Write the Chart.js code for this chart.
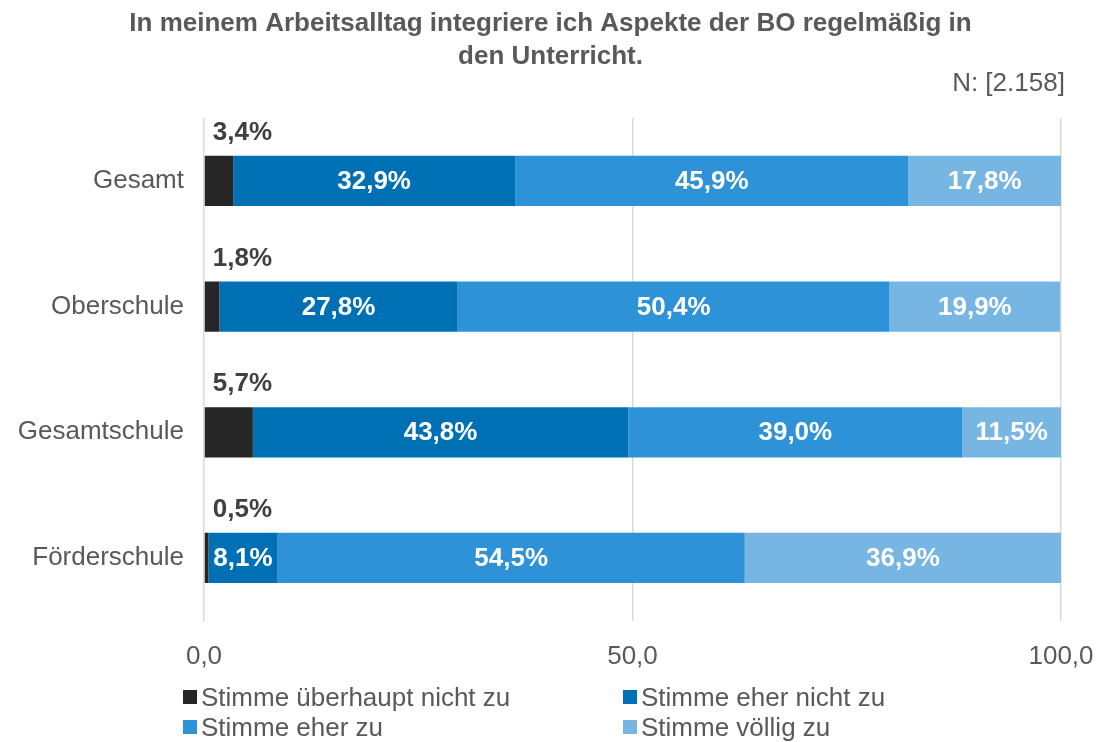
<!DOCTYPE html>
<html>
<head>
<meta charset="utf-8">
<script src="https://cdn.jsdelivr.net/npm/chart.js@4/dist/chart.umd.min.js"></script>
<style>
  html, body { margin: 0; padding: 0; background: #fff; }
  #wrap { position: relative; width: 1101px; height: 742px; }
  #legend { position: absolute; left: 0; top: 682px; width: 1101px; font-family: "Liberation Sans", Arial, sans-serif; font-size: 26px; color: #595959; }
  #legend .item { position: absolute; display: flex; align-items: center; white-space: nowrap; line-height: 30px; }
  #legend .box { width: 14px; height: 14px; margin-right: 4px; }
</style>
</head>
<body>
<div id="wrap">
  <canvas id="chart" width="1101" height="742"></canvas>
  <div id="legend"></div>
</div>
<script>
const categories = ['Gesamt', 'Oberschule', 'Gesamtschule', 'Förderschule'];
const seriesNames = ['Stimme überhaupt nicht zu', 'Stimme eher nicht zu', 'Stimme eher zu', 'Stimme völlig zu'];
const notAtAll = [3.4, 1.8, 5.7, 0.5];
const ratherNot = [32.9, 27.8, 43.8, 8.1];
const rather = [45.9, 50.4, 39.0, 54.5];
const fully = [17.8, 19.9, 11.5, 36.9];
const xTicks = [0, 50, 100];
const colors = ['#262626', '#0070B4', '#2E92D8', '#77B5E3'];

const fmt = v => v.toFixed(1).replace('.', ',');
const FONT = '"Liberation Sans", Arial, sans-serif';

// value labels: first series sits above the bar, the rest white inside
const labelPlugin = {
  id: 'barLabels',
  afterDatasetsDraw(chart) {
    const ctx = chart.ctx;
    ctx.save();
    ctx.font = 'bold 26px ' + FONT;
    ctx.textBaseline = 'middle';
    chart.data.datasets.forEach((ds, i) => {
      const meta = chart.getDatasetMeta(i);
      meta.data.forEach((bar, j) => {
        const txt = fmt(ds.data[j]) + '%';
        if (i === 0) {
          ctx.fillStyle = '#404040';
          ctx.textAlign = 'left';
          ctx.fillText(txt, bar.base + 8, bar.y - bar.height / 2 - 23);
        } else {
          ctx.fillStyle = '#ffffff';
          ctx.textAlign = 'center';
          ctx.fillText(txt, (bar.x + bar.base) / 2, bar.y + 1);
        }
      });
    });
    ctx.restore();
  }
};

const datasets = [notAtAll, ratherNot, rather, fully].map((d, i) => ({
  label: seriesNames[i],
  data: d,
  backgroundColor: colors[i],
  borderWidth: 0,
  barPercentage: 0.4,
  categoryPercentage: 1
}));

new Chart(document.getElementById('chart'), {
  type: 'bar',
  data: { labels: categories, datasets },
  options: {
    indexAxis: 'y',
    responsive: false,
    animation: false,
    layout: { padding: { left: 0, right: 0, top: 0, bottom: 50 } },
    plugins: {
      legend: { display: false },
      tooltip: { enabled: false },
      title: {
        display: true,
        text: ['In meinem Arbeitsalltag integriere ich Aspekte der BO regelmäßig in', 'den Unterricht.'],
        color: '#595959',
        font: { family: FONT, size: 26, weight: 'bold', lineHeight: 1.27 },
        padding: { top: 7, bottom: 0 }
      },
      subtitle: {
        display: true,
        text: 'N: [2.158]\u00a0\u00a0\u00a0\u00a0\u00a0',
        align: 'end',
        color: '#595959',
        font: { family: FONT, size: 26, lineHeight: 0.85 },
        padding: { top: 0, bottom: 23 }
      }
    },
    scales: {
      x: {
        stacked: true,
        min: 0,
        max: 100,
        afterBuildTicks: s => { s.ticks = xTicks.map(v => ({ value: v })); },
        afterFit: s => { s.paddingLeft = 0; s.paddingRight = 40; },
        ticks: {
          color: '#595959',
          font: { family: FONT, size: 26 },
          padding: 20,
          callback: v => fmt(v)
        },
        grid: { color: '#d9d9d9', lineWidth: 1.5, drawTicks: false },
        border: { display: false }
      },
      y: {
        stacked: true,
        afterFit: s => { s.width = 204; },
        ticks: {
          color: '#595959',
          font: { family: FONT, size: 26 },
          padding: 20
        },
        grid: { display: false, drawTicks: false },
        border: { display: false }
      }
    }
  },
  plugins: [labelPlugin]
});

// two-column legend below the axis
const legend = document.getElementById('legend');
const legendPos = [[183, 0], [623, 0], [183, 30], [623, 30]];
seriesNames.forEach((name, i) => {
  const item = document.createElement('div');
  item.className = 'item';
  item.style.left = legendPos[i][0] + 'px';
  item.style.top = legendPos[i][1] + 'px';
  item.innerHTML = `<span class="box" style="background:${colors[i]}"></span><span>${name}</span>`;
  legend.appendChild(item);
});
</script>
</body>
</html>
